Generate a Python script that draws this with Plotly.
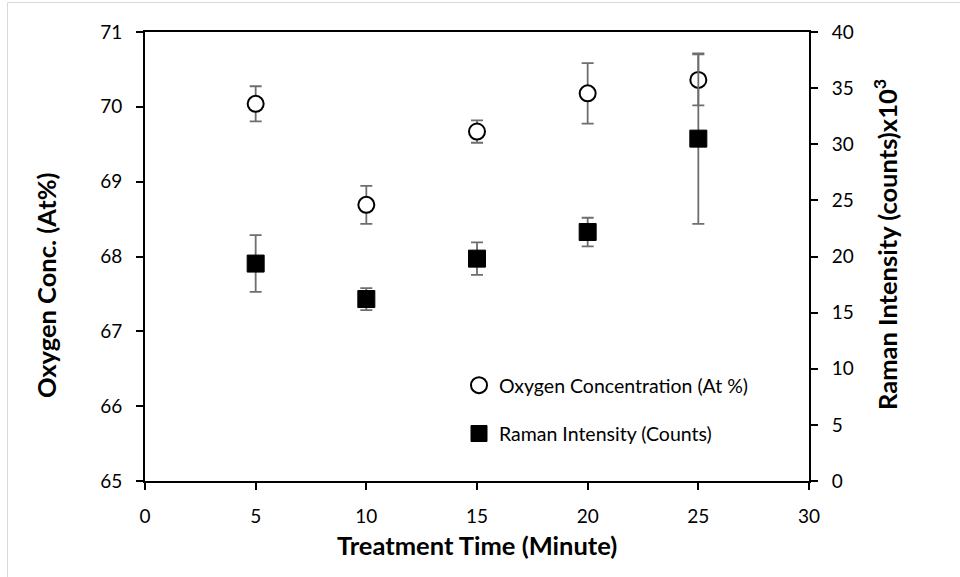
import plotly.graph_objects as go

time_min = [5, 10, 15, 20, 25]
oxygen_conc = [70.04, 68.69, 69.67, 70.18, 70.36]
oxygen_err = [0.235, 0.255, 0.15, 0.405, 0.34]
raman_int = [19.37, 16.21, 19.81, 22.18, 30.50]
raman_err = [2.53, 0.98, 1.44, 1.27, 7.6]

x_ticks = [0, 5, 10, 15, 20, 25, 30]
y_ticks = [65, 66, 67, 68, 69, 70, 71]
y2_ticks = [0, 5, 10, 15, 20, 25, 30, 35, 40]

x_title = "Treatment Time (Minute)"
y_title = "Oxygen Conc. (At%)"
y2_title = "Raman Intensity (counts)x10<sup>3</sup>"

FONT = "Lato, 'Open Sans', sans-serif"
ERR_COLOR = "#6e6e6e"

W, H = 960, 577
L, R, T, B = 145, 151, 32, 96
pw, ph = W - L - R, H - T - B


def px(xp):
    return (xp - L) / pw


def py(yp):
    return (H - B - yp) / ph


fig = go.Figure()
fig.add_trace(go.Scatter(
    x=time_min, y=oxygen_conc, mode="markers", name="Oxygen Concentration (At %)",
    legendgroup="a",
    marker=dict(symbol="circle", size=16, color="white", line=dict(color="black", width=2)),
    error_y=dict(type="data", array=oxygen_err, color=ERR_COLOR, thickness=1.8, width=6),
))
fig.add_trace(go.Scatter(
    x=time_min, y=raman_int, mode="markers", name="Raman Intensity (Counts)",
    legendgroup="b", yaxis="y2",
    marker=dict(symbol="square", size=17, color="black", line=dict(color="black", width=1)),
    error_y=dict(type="data", array=raman_err, color=ERR_COLOR, thickness=1.8, width=6),
))

axis_common = dict(showgrid=False, zeroline=False, showline=True, linecolor="black",
                   linewidth=2, ticks="outside", ticklen=7, tickcolor="black", tickwidth=2,
                   ticklabelstandoff=10, tickfont=dict(size=19))

fig.update_layout(
    width=W, height=H,
    margin=dict(l=L, r=R, t=T, b=B),
    paper_bgcolor="white", plot_bgcolor="white",
    font=dict(family=FONT, size=19, color="black"),
    xaxis=dict(range=[0, 30], tickvals=x_ticks, mirror=True, **axis_common),
    yaxis=dict(range=[65, 71], tickvals=y_ticks, **axis_common),
    yaxis2=dict(range=[0, 40], tickvals=y2_ticks, overlaying="y", side="right", **axis_common),
    legend=dict(x=px(459), y=py(366), xanchor="left", yanchor="top",
                bgcolor="rgba(0,0,0,0)", font=dict(size=19.5), tracegroupgap=20,
                traceorder="grouped", itemwidth=30),
    showlegend=True,
    annotations=[
        dict(text="<b>" + x_title + "</b>", xref="paper", yref="paper", x=px(477), y=py(545),
             xanchor="center", yanchor="middle", showarrow=False, font=dict(size=25.5)),
        dict(text="<b>" + y_title + "</b>", xref="paper", yref="paper", x=px(46), y=py(285),
             xanchor="center", yanchor="middle", showarrow=False, textangle=-90, font=dict(size=25.5)),
        dict(text="<b>" + y2_title + "</b>", xref="paper", yref="paper", x=px(885), y=py(245),
             xanchor="center", yanchor="middle", showarrow=False, textangle=-90, font=dict(size=25.5)),
    ],
    shapes=[dict(type="rect", xref="paper", yref="paper",
                 x0=px(7.5), x1=px(W + 5), y0=py(H + 5), y1=py(2.5),
                 line=dict(color="#d9d9d9", width=1), fillcolor="rgba(0,0,0,0)", layer="below")],
)

fig.write_html("out.html")
